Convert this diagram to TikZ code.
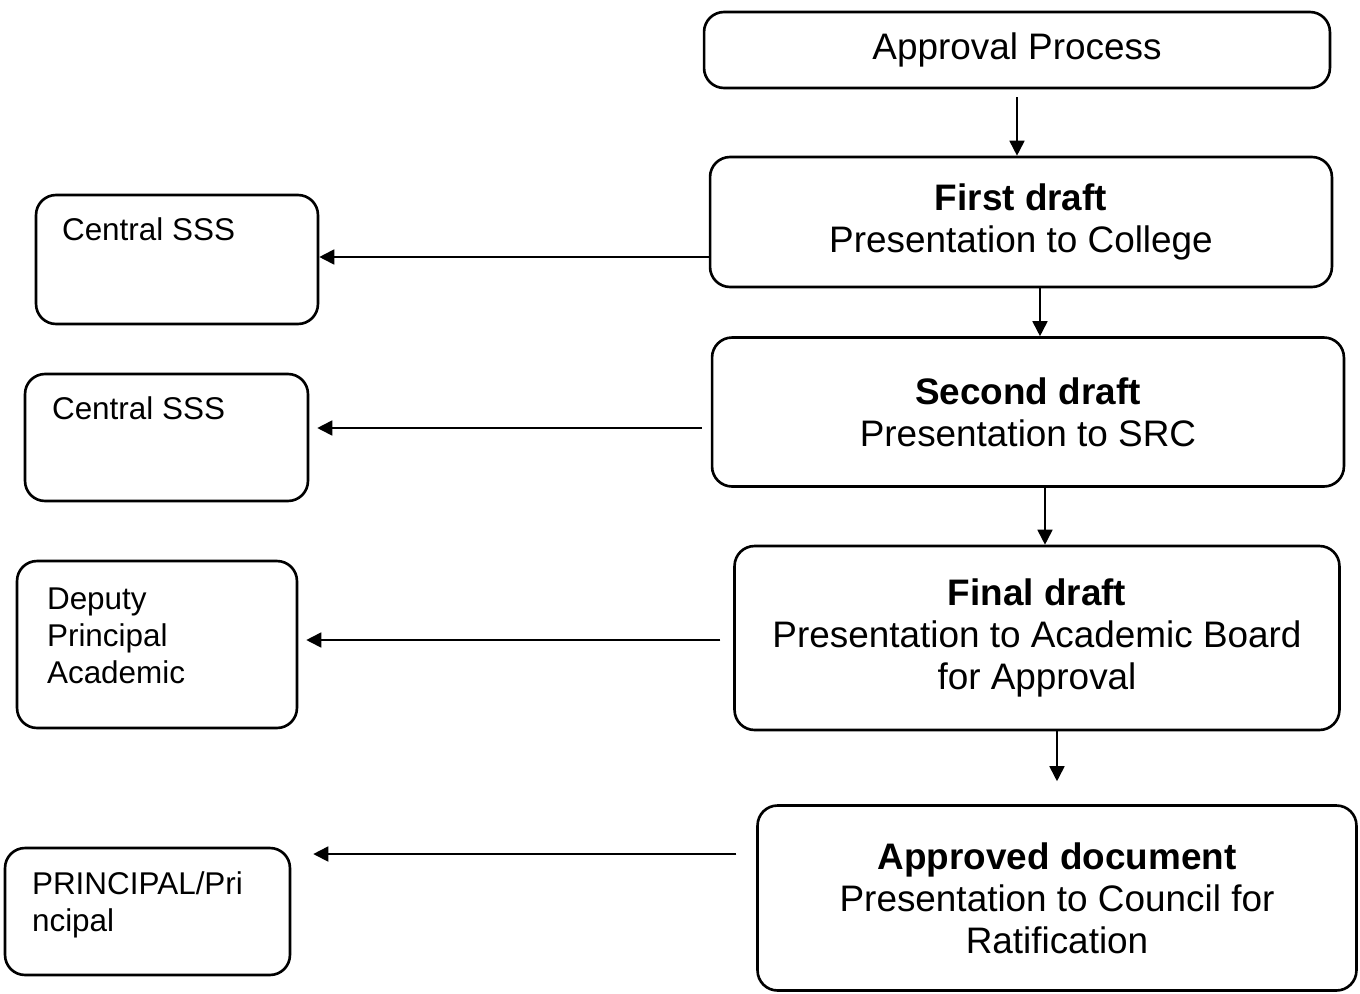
\documentclass[tikz,border=0pt]{standalone}
\usepackage{fontspec}
\setmainfont{Liberation Sans}
\usetikzlibrary{arrows.meta}
\begin{document}
\begin{tikzpicture}[
		x = 0.02cm, y = -0.02cm,
		mainbox/.style = {draw, rounded corners = 0.4cm, line width = 1.5pt, align = center, inner sep = 0pt, font = \fontsize{21}{24}\selectfont},
		sidebox/.style = {draw, rounded corners = 0.4cm, line width = 1.5pt, inner sep = 0pt},
		sidetext/.style = {anchor = north west, align = left, inner sep = 0pt, font = \fontsize{17.9}{21}\selectfont},
		flow/.style = {-{Triangle[length = 0.3cm, width = 0.3cm]}, line width = 1pt}
	]

	\useasboundingbox (0,0) rectangle (1360,994);

	% right column
	\node (approval) [mainbox, minimum width = 12.52cm, minimum height = 1.52cm] at (1017,50) {Approval Process};
	\node (first) [mainbox, minimum width = 12.44cm, minimum height = 2.6cm] at (1021,222) {\textbf{First draft}\\Presentation to College};
	\node (second) [mainbox, minimum width = 12.64cm, minimum height = 2.98cm] at (1028,412) {\textbf{Second draft}\\Presentation to SRC};
	\node (final) [mainbox, minimum width = 12.1cm, minimum height = 3.68cm] at (1037,638) {\textbf{Final draft}\\Presentation to Academic Board\\for Approval};
	\node (approved) [mainbox, minimum width = 11.98cm, minimum height = 3.7cm] at (1057,898) {\textbf{Approved document}\\Presentation to Council for\\Ratification};

	% left column
	\node (sss1) [sidebox, minimum width = 5.64cm, minimum height = 2.58cm] at (177,259.5) {};
	\node (sss2) [sidebox, minimum width = 5.66cm, minimum height = 2.54cm] at (166.5,437.5) {};
	\node (deputy) [sidebox, minimum width = 5.6cm, minimum height = 3.34cm] at (157,644.5) {};
	\node (principal) [sidebox, minimum width = 5.7cm, minimum height = 2.54cm] at (147.5,911.5) {};

	\node (sss1txt) [sidetext] at ([shift = {(0.54cm,-0.48cm)}]sss1.north west) {Central SSS};
	\node (sss2txt) [sidetext] at ([shift = {(0.56cm,-0.48cm)}]sss2.north west) {Central SSS};
	\node (deputytxt) [sidetext] at ([shift = {(0.62cm,-0.56cm)}]deputy.north west) {Deputy\\Principal\\Academic};
	\node (principaltxt) [sidetext] at ([shift = {(0.56cm,-0.5cm)}]principal.north west) {PRINCIPAL/Pri\\ncipal};

	% downward steps
	\path
	(approval.south) edge [flow, shorten <= 0.16cm] (approval.south |- first.north)
	([xshift = 0.38cm]first.south) edge [flow] ([xshift = 0.38cm]first.south |- second.north)
	([xshift = 0.34cm]second.south) edge [flow] ([xshift = 0.34cm]second.south |- final.north)
	([xshift = 0.4cm]final.south) edge [flow, shorten >= 0.46cm] ([xshift = 0.4cm]final.south |- approved.north);

	% side branches
	\path
	([yshift = 0.05cm]sss1.east -| first.west) edge [flow] ([yshift = 0.05cm]sss1.east)
	([yshift = 0.19cm]sss2.east -| second.west) edge [flow, shorten <= 0.18cm, shorten >= 0.16cm] ([yshift = 0.19cm]sss2.east)
	([yshift = 0.09cm]deputy.east -| final.west) edge [flow, shorten <= 0.26cm, shorten >= 0.16cm] ([yshift = 0.09cm]deputy.east)
	([yshift = 1.15cm]principal.east -| approved.west) edge [flow, shorten <= 0.4cm, shorten >= 0.44cm] ([yshift = 1.15cm]principal.east);
\end{tikzpicture}
\end{document}
